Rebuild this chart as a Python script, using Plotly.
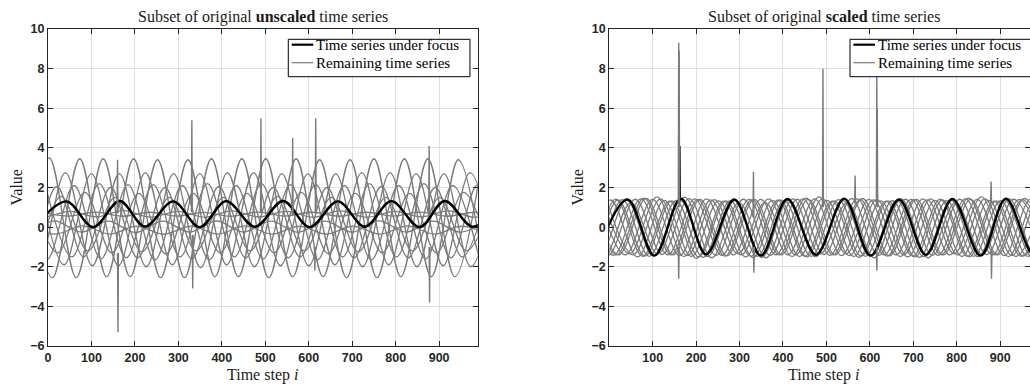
import numpy as np
import plotly.graph_objects as go

# ---------------- data ----------------
# Each unscaled series is stored as its successive extrema: time step, value.
focus_t = [-30, 42, 104, 165, 223, 288, 349, 410, 476, 541, 602, 667, 729, 790, 855, 913, 978, 1040]
focus_v = [0.02, 1.30, 0.00, 1.32, 0.03, 1.30, 0.00, 1.31, 0.02, 1.32, 0.00, 1.30, 0.02, 1.31, 0.00, 1.32, 0.02, 1.30]

s1_t = [-122, -60, 3, 65, 127, 189, 252, 314, 376, 438, 501, 563, 625, 687, 750, 812, 874, 936, 999]
s1_v = [3.45, -2.5, 3.5, -2.55, 3.45, -2.5, 3.4, -2.55, 3.45, -2.5, 3.45, -2.5, 3.4, -2.55, 3.45, -2.5, 3.45, -2.5, 3.4]
s2_t = [-52, 10, 73, 135, 197, 259, 322, 384, 446, 508, 571, 633, 695, 757, 820, 882, 944, 1006]
s2_v = [3.4, -2.55, 3.45, -2.5, 3.45, -2.55, 3.4, -2.5, 3.45, -2.55, 3.45, -2.5, 3.4, -2.55, 3.45, -2.5, 3.4, -2.55]
s3_t = [-85, -23, 40, 102, 164, 226, 289, 351, 413, 475, 538, 600, 662, 724, 787, 849, 911, 973, 1036]
s3_v = [2.7, -2.0, 2.75, -1.95, 2.7, -2.0, 2.7, -2.05, 2.75, -2.0, 2.7, -1.95, 2.7, -2.0, 2.75, -2.0, 2.7, -2.0, 2.7]
s4_t = [-25, 37, 100, 162, 224, 286, 349, 411, 473, 535, 598, 660, 722, 784, 847, 909, 971, 1033]
s4_v = [2.75, -1.9, 2.7, -1.95, 2.75, -1.9, 2.7, -1.9, 2.75, -1.95, 2.7, -1.9, 2.75, -1.9, 2.7, -1.95, 2.75, -1.9]
s5_t = [-7, 55, 118, 180, 242, 304, 367, 429, 491, 553, 616, 678, 740, 802, 865, 927, 989, 1051]
s5_v = [2.2, -1.5, 2.2, -1.55, 2.15, -1.5, 2.2, -1.5, 2.2, -1.55, 2.15, -1.5, 2.2, -1.5, 2.2, -1.55, 2.15, -1.5]
s6_t = [-105, -43, 20, 82, 144, 206, 269, 331, 393, 455, 518, 580, 642, 704, 767, 829, 891, 953, 1016]
s6_v = [2.0, -1.55, 2.05, -1.5, 2.0, -1.55, 2.0, -1.6, 2.05, -1.55, 2.0, -1.5, 2.0, -1.55, 2.05, -1.55, 2.0, -1.5, 2.0]
s7_t = [-65, -3, 60, 122, 184, 246, 309, 371, 433, 495, 558, 620, 682, 744, 807, 869, 931, 993]
s7_v = [2.1, -1.65, 2.1, -1.6, 2.15, -1.65, 2.1, -1.65, 2.1, -1.6, 2.15, -1.65, 2.1, -1.65, 2.1, -1.6, 2.1, -1.65]
s8_t = [-40, 22, 85, 147, 209, 271, 334, 396, 458, 520, 583, 645, 707, 769, 832, 894, 956, 1018]
s8_v = [1.7, -1.3, 1.75, -1.3, 1.7, -1.35, 1.7, -1.3, 1.7, -1.3, 1.75, -1.35, 1.7, -1.3, 1.7, -1.3, 1.75, -1.3]
s9_t = [-95, -33, 30, 92, 154, 216, 279, 341, 403, 465, 528, 590, 652, 714, 777, 839, 901, 963, 1026]
s9_v = [1.5, -1.2, 1.55, -1.2, 1.5, -1.25, 1.5, -1.2, 1.5, -1.2, 1.55, -1.2, 1.5, -1.25, 1.5, -1.2, 1.5, -1.2, 1.5]
s10_t = [-75, -13, 50, 112, 174, 236, 299, 361, 423, 485, 548, 610, 672, 734, 797, 859, 921, 983, 1046]
s10_v = [0.82, 0.5, 0.8, 0.52, 0.83, 0.5, 0.8, 0.5, 0.82, 0.52, 0.8, 0.5, 0.82, 0.5, 0.8, 0.52, 0.82, 0.5, 0.8]
s11_t = [-15, 47, 110, 172, 234, 296, 359, 421, 483, 545, 608, 670, 732, 794, 857, 919, 981, 1043]
s11_v = [0.75, 0.56, 0.76, 0.55, 0.75, 0.56, 0.74, 0.55, 0.76, 0.56, 0.75, 0.55, 0.75, 0.56, 0.76, 0.55, 0.75, 0.56]
s12_t = [-110, -48, 15, 77, 139, 201, 264, 326, 388, 450, 513, 575, 637, 699, 762, 824, 886, 948, 1011]
s12_v = [0.3, -0.25, 0.32, -0.25, 0.3, -0.27, 0.3, -0.25, 0.31, -0.25, 0.3, -0.26, 0.3, -0.25, 0.32, -0.25, 0.3, -0.25, 0.3]
s13_t = [-45, 17, 80, 142, 204, 266, 329, 391, 453, 515, 578, 640, 702, 764, 827, 889, 951, 1013]
s13_v = [0.05, -0.35, 0.06, -0.35, 0.05, -0.36, 0.05, -0.35, 0.06, -0.35, 0.05, -0.36, 0.05, -0.35, 0.06, -0.35, 0.05, -0.35]

grey_series = [(s1_t, s1_v), (s2_t, s2_v), (s3_t, s3_v), (s4_t, s4_v), (s5_t, s5_v),
               (s6_t, s6_v), (s7_t, s7_v), (s8_t, s8_v), (s9_t, s9_v), (s10_t, s10_v),
               (s11_t, s11_v), (s12_t, s12_v), (s13_t, s13_v)]

# single-sample outliers (time step, level before, peak value)
left_spike_t = [160, 161, 331, 333, 490, 563, 616, 614, 877, 878]
left_spike_base = [0.7, -1.3, 0.75, -0.4, 0.7, 0.6, 0.7, -1.0, 0.7, -1.0]
left_spike_tip = [3.4, -5.3, 5.4, -3.1, 5.5, 4.5, 5.5, -2.2, 4.1, -3.8]

right_spike_t = [160, 161, 160, 332, 333, 492, 566, 616, 617, 616, 879, 880]
right_spike_base = [1.2, 1.0, -1.0, 0.5, -1.0, 1.0, 1.2, 1.1, 1.0, -1.0, 1.2, -1.2]
right_spike_tip = [9.3, 8.9, -2.6, 2.8, -2.3, 8.0, 2.6, 7.7, 6.0, -2.2, 2.3, -2.6]
right_focus_spike_t = [162]
right_focus_spike_base = [1.35]
right_focus_spike_tip = [4.1]

x_ticks_left = [0, 100, 200, 300, 400, 500, 600, 700, 800, 900]
x_ticks_right = [100, 200, 300, 400, 500, 600, 700, 800, 900]
y_ticks = [-6, -4, -2, 0, 2, 4, 6, 8, 10]

titles = ["Subset of original <b>unscaled</b> time series",
          "Subset of original <b>scaled</b> time series"]
legend_labels = ["Time series under focus", "Remaining time series"]

# ---------------- helpers ----------------
GREY = "#7a7a7a"
SERIF = "Liberation Serif"


def zscore(v):
    # knots are the extrema of sinusoid-like series: std of the series = std(knots)/sqrt(2)
    v = np.asarray(v, dtype=float)
    return (v - v.mean()) / (v.std() / np.sqrt(2))


def spikes(ts, base, tip):
    xs, ys = [], []
    for t, b, p in zip(ts, base, tip):
        xs += [t - 1, t, t + 1, None]
        ys += [b, p, b, None]
    return xs, ys


fig = go.Figure()

for ax, scale in (("", False), ("2", True)):
    for t, v in grey_series:
        fig.add_trace(go.Scatter(x=t, y=zscore(v) if scale else v, mode="lines",
                                 line=dict(color=GREY, width=1.3, shape="spline"),
                                 xaxis="x" + ax, yaxis="y" + ax, showlegend=False,
                                 hoverinfo="skip"))
    fig.add_trace(go.Scatter(x=focus_t, y=zscore(focus_v) if scale else focus_v, mode="lines",
                             line=dict(color="black", width=2.4, shape="spline"),
                             xaxis="x" + ax, yaxis="y" + ax, showlegend=False, hoverinfo="skip"))

sx, sy = spikes(right_focus_spike_t, right_focus_spike_base, right_focus_spike_tip)
fig.add_trace(go.Scatter(x=sx, y=sy, mode="lines", line=dict(color="black", width=2),
                         xaxis="x2", yaxis="y2", showlegend=False, hoverinfo="skip"))
sx, sy = spikes(left_spike_t, left_spike_base, left_spike_tip)
fig.add_trace(go.Scatter(x=sx, y=sy, mode="lines", line=dict(color=GREY, width=1.4),
                         xaxis="x", yaxis="y", showlegend=False, hoverinfo="skip"))
sx, sy = spikes(right_spike_t, right_spike_base, right_spike_tip)
fig.add_trace(go.Scatter(x=sx, y=sy, mode="lines", line=dict(color=GREY, width=1.4),
                         xaxis="x2", yaxis="y2", showlegend=False, hoverinfo="skip"))

axis_common = dict(showgrid=True, gridcolor="#e0e0e0", gridwidth=1, zeroline=False,
                   showline=True, linecolor="#262626", linewidth=1, mirror="ticks",
                   ticks="inside", ticklen=5, tickcolor="#262626",
                   tickfont=dict(family="Liberation Sans", size=12.5, color="#262626", weight="bold"))

fig.update_layout(
    width=1030, height=385,
    margin=dict(l=48, r=0, t=29, b=39, autoexpand=False),
    paper_bgcolor="white", plot_bgcolor="white",
    xaxis=dict(domain=[0, 0.4377], range=[0, 989], tickvals=x_ticks_left, anchor="y", **axis_common),
    yaxis=dict(domain=[0, 1], range=[-6, 10], tickvals=y_ticks, anchor="x", **axis_common),
    xaxis2=dict(domain=[0.5715, 1.0], range=[0, 968.6], tickvals=x_ticks_right, anchor="y2", **axis_common),
    yaxis2=dict(domain=[0, 1], range=[-6, 10], tickvals=y_ticks, anchor="x2", **axis_common),
    showlegend=False,
)

text_font = dict(family=SERIF, size=16, color="#1a1a1a")
ann = []
for cx, lx, title in ((0.2189, -0.0316, titles[0]), (0.790, 0.5397, titles[1])):
    ann.append(dict(x=cx, y=1.0388, xref="paper", yref="paper", text=title, showarrow=False,
                    xanchor="center", yanchor="middle", font=text_font))
    ann.append(dict(x=cx, y=-0.0915, xref="paper", yref="paper", text="Time step <i>i</i>",
                    showarrow=False, xanchor="center", yanchor="middle", font=text_font))
    ann.append(dict(x=lx, y=0.5, xref="paper", yref="paper", text="Value", textangle=-90,
                    showarrow=False, xanchor="center", yanchor="middle", font=text_font))

shapes = []
for bx0, bx1, lx0, lx1, tx in ((0.2447, 0.4297, 0.2482, 0.2702, 0.2709),
                               (0.8167, 1.001, 0.8202, 0.8422, 0.8429)):
    shapes.append(dict(type="rect", xref="paper", yref="paper", x0=bx0, x1=bx1, y0=0.8495, y1=0.9675,
                       line=dict(color="black", width=1), fillcolor="white", layer="above"))
    for yy, col, w, lab in ((0.9505, "black", 2.2, legend_labels[0]), (0.8937, GREY, 1.2, legend_labels[1])):
        shapes.append(dict(type="line", xref="paper", yref="paper", x0=lx0, x1=lx1, y0=yy, y1=yy,
                           line=dict(color=col, width=w), layer="above"))
        ann.append(dict(x=tx, y=yy, xref="paper", yref="paper", text=lab, showarrow=False,
                        xanchor="left", yanchor="middle", font=dict(family=SERIF, size=15, color="black")))

fig.update_layout(annotations=ann, shapes=shapes)
fig.write_html("out.html")
